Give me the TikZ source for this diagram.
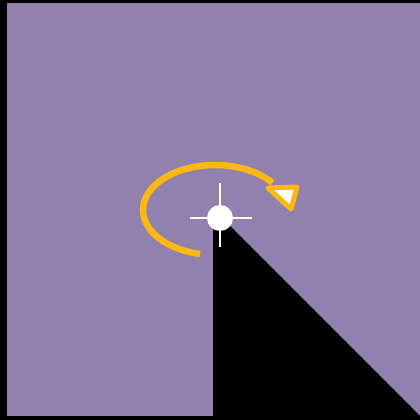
\documentclass[tikz,border=0pt]{standalone}
\definecolor{lilac}{RGB}{145,129,172}
\definecolor{gold}{RGB}{253,185,19}
\begin{document}
\begin{tikzpicture}[x=1pt,y=1pt]
	\fill[black] (0,0) rectangle (420,420);
	\fill[lilac] (7,4) rectangle (420,417);
	\fill[black] (213,0) --++(0,208) --++(3,0) -- (420,4) -- (420,0) -- cycle;
	\draw[line width=6.5pt, gold] (215,210) ++(258:72 and 45) arc (258:37:72 and 45);
	\filldraw[gold, fill=white, line width=5pt, line join=round] (268,232) -- (297,233) -- (291,211) -- cycle;
	\draw[white, line width=2.2pt] (190,202) -- (252,202) (220,237) -- (220,173);
	\node[circle, fill=white, inner sep=0pt, minimum size=26pt] (pivot) at (220,202) {};
\end{tikzpicture}
\end{document}
